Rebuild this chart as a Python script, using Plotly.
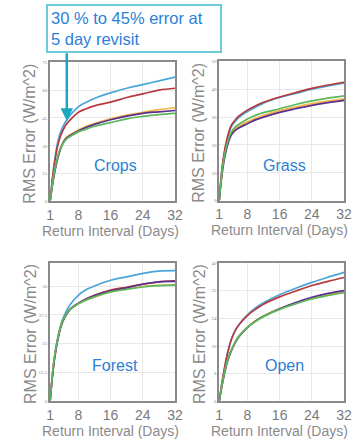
import plotly.graph_objects as go

days = [1, 2, 3, 4, 5, 6, 8, 10, 12, 16, 20, 24, 28, 32]
series_names = ["Model A", "Model B", "Model C", "Model D", "Model E"]
series_colors = ["#4aa6d8", "#b83a3e", "#f2b544", "#5a2d91", "#5cb85c"]

crops = [
    [0, 20, 33, 39.5, 43.5, 46.5, 51, 53.5, 55.5, 58.5, 61, 63, 65, 67],
    [0, 19, 31, 37.5, 41.5, 44, 48, 50, 51.5, 53.5, 56, 58, 60, 61],
    [0, 15, 25, 31, 34.5, 36, 38.5, 40.5, 42, 44.5, 46.5, 48, 49.5, 50.5],
    [0, 14, 24, 30.5, 34, 35.5, 38, 40, 41.5, 44, 46, 47.5, 48.3, 49],
    [0, 15, 25, 30.5, 33.5, 35, 37.5, 39, 40.5, 42.5, 44.5, 45.8, 46.8, 47.5],
]
grass = [
    [0, 14.5, 22, 26.5, 28.5, 30, 32, 33.5, 35, 37, 38.5, 40, 41.2, 42.2],
    [0, 15, 22.5, 27, 29, 30.5, 32.5, 34, 35.3, 37.2, 38.8, 40.3, 41.5, 42.5],
    [0, 13, 20, 24, 25.8, 26.8, 28.3, 29.6, 30.6, 32.3, 33.6, 34.8, 35.7, 36.5],
    [0, 12.5, 19.5, 23.5, 25.2, 26.2, 27.6, 29, 30, 31.7, 33, 34.2, 35.2, 36],
    [0, 13.5, 20.5, 24.5, 26.5, 27.5, 29.3, 30.6, 31.6, 33, 34.5, 35.8, 36.8, 37.6],
]
forest = [
    [0, 18, 28.5, 35, 39, 42, 46, 48.5, 50, 52.5, 54, 55.5, 56.5, 56.7],
    [0, 18, 28, 34.5, 37.5, 40, 42.5, 44.5, 46, 48.3, 49.5, 50.8, 51.8, 52.3],
    [0, 18, 28, 34.5, 37.5, 40, 42.3, 44, 45.3, 47.5, 48.7, 49.8, 50.3, 50.5],
    [0, 17, 27.5, 34, 37.5, 40, 42.5, 44.3, 45.8, 47.8, 49.2, 50.8, 51.8, 52],
    [0, 18, 28, 34.5, 37.5, 40, 42.3, 44, 45.3, 47.5, 48.6, 49.6, 50.2, 50.4],
]
open_ = [
    [0, 7.5, 13.5, 17.8, 20.5, 22.3, 25, 27, 28.5, 30.8, 32.7, 34.4, 35.9, 37.3],
    [0, 7.5, 13.5, 17.8, 20.5, 22.3, 24.8, 26.6, 28.1, 30.2, 31.9, 33.5, 34.7, 35.8],
    [0, 6.5, 11.5, 14.8, 17.2, 19, 21.5, 23.3, 24.7, 26.8, 28.4, 29.8, 30.8, 31.6],
    [0, 6.3, 11.3, 14.6, 17, 18.8, 21.3, 23.2, 24.6, 26.8, 28.6, 30.1, 31.2, 32],
    [0, 6.5, 11.5, 14.8, 17.2, 19, 21.4, 23.1, 24.5, 26.6, 28.2, 29.6, 30.6, 31.4],
]

panel_titles = ["Crops", "Grass", "Forest", "Open"]
panel_data = [crops, grass, forest, open_]
y_ranges = [[0, 75], [0, 50], [0, 60], [0, 40]]
y_ticks = [[0, 15, 30, 45, 60, 75], [0, 10, 20, 30, 40, 50],
           [0, 12.5, 25, 37.5, 50], [0, 8, 16, 24, 32, 40]]
x_ticks = [1, 8, 16, 24, 32]

W, H = 355, 439
def px(x): return x / W
def py(y): return 1 - y / H

panels_px = [  # left, right, top, bottom in pixels
    (47.7, 177, 61, 201.7),
    (222.7, 352, 60, 201),
    (47.7, 177, 264, 404),
    (222.7, 352, 264, 404),
]

fig = go.Figure()
annotations = []
gray = "#8a8a8a"
blue_txt = "#2b7fd6"

for i, (data, title) in enumerate(zip(panel_data, panel_titles)):
    ax = "" if i == 0 else str(i + 1)
    for vals, name, col in zip(data, series_names, series_colors):
        fig.add_trace(go.Scatter(x=days, y=vals, mode="lines", name=name,
                                 line=dict(color=col, width=1.7, shape="spline", smoothing=1.1),
                                 xaxis="x" + ax, yaxis="y" + ax, showlegend=False))
    l, r, t, b = panels_px[i]
    fig.layout["xaxis" + ax] = dict(
        domain=[px(l), px(r)], anchor="y" + ax, range=[1, 32],
        tickvals=x_ticks, ticks="", tickfont=dict(size=14, color="#7a7a7a", family="Arial"),
        showgrid=True, gridcolor="#e8e8e8", showline=True, linecolor="#8a8a8a",
        linewidth=1.5, mirror=True, zeroline=False)
    fig.layout["yaxis" + ax] = dict(
        domain=[py(b), py(t)], anchor="x" + ax, range=y_ranges[i],
        tickvals=y_ticks[i], ticks="", tickfont=dict(size=5, color="#888", family="Times New Roman"),
        showgrid=True, gridcolor="#e8e8e8", showline=True, linecolor="#8a8a8a",
        linewidth=1.5, mirror=True, zeroline=False)
    # axis titles
    annotations.append(dict(x=px(l - 21), y=py((t + b) / 2 + 2), xref="paper", yref="paper",
                            xanchor="center", yanchor="middle",
                            text="RMS Error (W/m^2)", textangle=-90, showarrow=False,
                            font=dict(size=16, color=gray, family="Arial")))
    annotations.append(dict(x=px((l + r) / 2 - 2), y=py(b + 29.5), xref="paper", yref="paper",
                            xanchor="center", yanchor="middle",
                            text="Return Interval (Days)", showarrow=False,
                            font=dict(size=14, color=gray, family="Arial")))
    annotations.append(dict(x=px((l + r) / 2 + 3), y=py(b - 36), xref="paper", yref="paper",
                            xanchor="center", yanchor="middle",
                            text=title, showarrow=False,
                            font=dict(size=16, color=blue_txt, family="Arial")))

# callout box
annotations.append(dict(x=px(43), y=py(2), xref="paper", yref="paper", xanchor="left", yanchor="top",
                        text="30 % to 45% error at<br>5 day revisit", align="left", showarrow=False,
                        font=dict(size=16.5, color=blue_txt, family="Arial"),
                        bordercolor="#6ccbd8", borderwidth=2, borderpad=3, bgcolor="white",
                        width=166))
annotations.append(dict(x=px(65), y=py(120), xref="paper", yref="paper",
                        ax=0, ay=-69, axref="pixel", ayref="pixel",
                        text="", showarrow=True, arrowhead=2, arrowsize=1, arrowwidth=2.5,
                        arrowcolor="#1ba7bf"))

fig.update_layout(width=W, height=H, margin=dict(l=0, r=0, t=0, b=0),
                  paper_bgcolor="white", plot_bgcolor="white",
                  annotations=annotations)
fig.write_html("out.html")
